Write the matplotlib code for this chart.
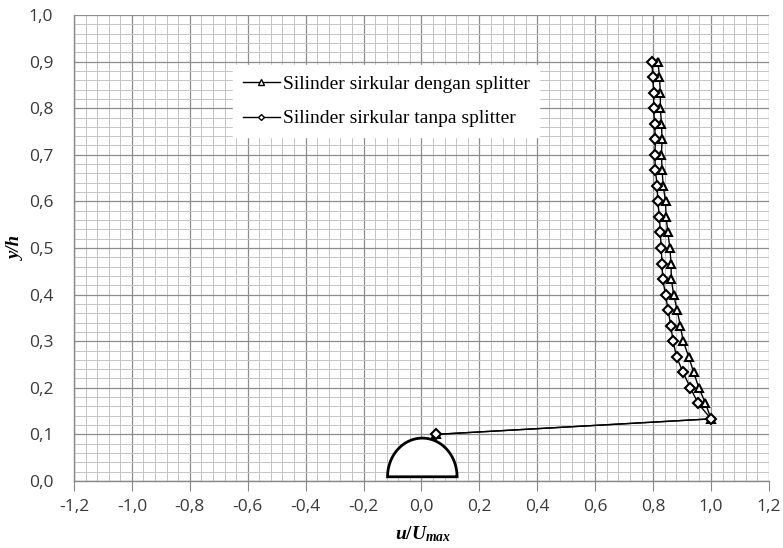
import numpy as np
import matplotlib
matplotlib.use("Agg")
import matplotlib.pyplot as plt
from matplotlib.ticker import MultipleLocator, FuncFormatter
from matplotlib.patches import Polygon

plt.rcParams["mathtext.fontset"] = "custom"
plt.rcParams["mathtext.rm"] = "Liberation Serif:bold"
plt.rcParams["mathtext.it"] = "Liberation Serif:bold:italic"
plt.rcParams["mathtext.bf"] = "Liberation Serif:bold"

# Measurement heights (y/h) and normalised velocity (u/Umax)
y_h = [0.1000, 0.1333, 0.1667, 0.2000, 0.2333, 0.2667, 0.3000, 0.3333, 0.3667,
       0.4000, 0.4333, 0.4667, 0.5000, 0.5333, 0.5667, 0.6000, 0.6333, 0.6667,
       0.7000, 0.7333, 0.7667, 0.8000, 0.8333, 0.8667, 0.9000]

u_dengan = [0.05, 1.000, 0.981, 0.958, 0.940, 0.923, 0.904, 0.894, 0.883,
            0.871, 0.863, 0.862, 0.858, 0.851, 0.845, 0.843, 0.835, 0.831,
            0.829, 0.831, 0.829, 0.825, 0.825, 0.822, 0.817]

u_tanpa = [0.05, 1.000, 0.955, 0.929, 0.903, 0.881, 0.869, 0.861, 0.852,
           0.843, 0.833, 0.831, 0.828, 0.825, 0.822, 0.816, 0.814, 0.808,
           0.806, 0.808, 0.805, 0.802, 0.802, 0.799, 0.796]

labels = ["Silinder sirkular dengan splitter", "Silinder sirkular tanpa splitter"]

# Cylinder cross-section drawn at the bottom of the profile
cyl_center = 0.003
cyl_half_width = 0.12
cyl_base = 0.009
cyl_height = 0.083

fig = plt.figure(figsize=(7.83, 5.48), dpi=100)
ax = fig.add_axes([0.0945, 0.1223, 0.8875, 0.8503])

ax.set_xlim(-1.2, 1.2)
ax.set_ylim(0.0, 1.0)

ax.xaxis.set_major_locator(MultipleLocator(0.2))
ax.xaxis.set_minor_locator(MultipleLocator(0.04))
ax.yaxis.set_major_locator(MultipleLocator(0.1))
ax.yaxis.set_minor_locator(MultipleLocator(0.02))

comma = FuncFormatter(lambda v, p: f"{v:.1f}".replace(".", ",").replace("-0,0", "0,0"))
ax.xaxis.set_major_formatter(comma)
ax.yaxis.set_major_formatter(comma)

ax.grid(which="major", color="#8c8c8c", linewidth=0.9)
ax.grid(which="minor", color="#c4c4c4", linewidth=0.7)
ax.set_axisbelow(True)

for s in ("top", "right"):
    ax.spines[s].set_visible(False)
for s in ("left", "bottom"):
    ax.spines[s].set_color("#888888")
    ax.spines[s].set_linewidth(1.0)

ax.tick_params(axis="x", which="major", direction="out", length=7, color="#888888",
               pad=6, labelsize=12.5, labelcolor="#3a3a3a")
ax.tick_params(axis="y", which="major", direction="out", length=0, color="#888888",
               pad=15, labelsize=12.5, labelcolor="#3a3a3a")
ax.tick_params(which="minor", length=0)
for lab in ax.get_xticklabels() + ax.get_yticklabels():
    lab.set_fontfamily("Open Sans")

# Cylinder outline
theta = np.linspace(0, np.pi, 100)
cx = cyl_center + cyl_half_width * np.cos(theta)
cy = cyl_base + cyl_height * np.sin(theta)
cyl = Polygon(np.column_stack([cx, cy]), closed=True, facecolor="white",
              edgecolor="black", linewidth=2.0, zorder=2)
ax.add_patch(cyl)

ax.plot(u_dengan, y_h, color="black", linewidth=1.0, marker="^", markersize=6,
        markerfacecolor="white", markeredgecolor="black", markeredgewidth=1.5,
        label=labels[0], zorder=3)
ax.plot(u_tanpa, y_h, color="black", linewidth=1.0, marker="D", markersize=4.6,
        markerfacecolor="white", markeredgecolor="black", markeredgewidth=1.5,
        label=labels[1], zorder=3)

leg = ax.legend(loc="upper left", bbox_to_anchor=(0.215, 0.913), frameon=True,
                fancybox=False, edgecolor="white", facecolor="white", framealpha=1,
                prop={"family": "Liberation Serif", "size": 14.0},
                handlelength=1.9, handletextpad=0.15, labelspacing=0.88,
                markerscale=0.65, borderpad=0.5)
for h in leg.legend_handles:
    h.set_markeredgewidth(1.0)

fig.text(0.5405, 0.008, r"$u/U_{max}$", ha="center", va="bottom", fontsize=14)
ax.set_ylabel("y/h", fontsize=13.5, fontweight="bold", fontstyle="italic",
              fontfamily="Liberation Serif", labelpad=3)

fig.savefig("out.png", dpi=100, facecolor="white")
